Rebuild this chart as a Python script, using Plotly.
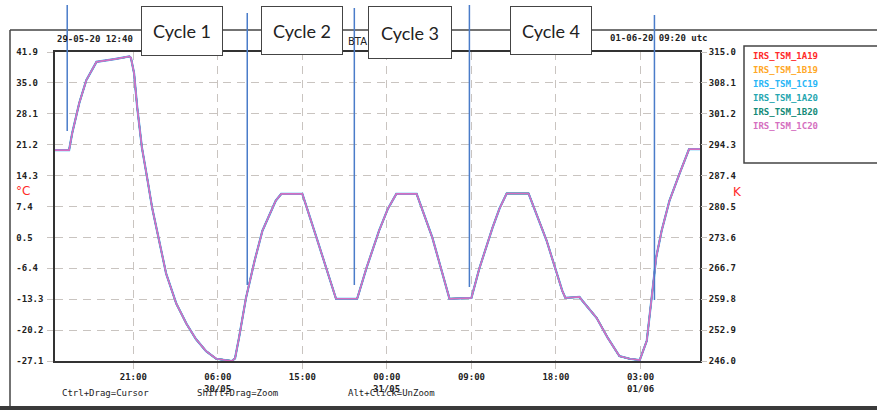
import plotly.graph_objects as go

# ---------------- data ----------------
series_names = ["IRS_TSM_1A19", "IRS_TSM_1B19", "IRS_TSM_1C19",
                "IRS_TSM_1A20", "IRS_TSM_1B20", "IRS_TSM_1C20"]
series_colors = ["#ff2a2a", "#ffa726", "#29b6f6", "#26a6b0", "#138a78", "#d56fc0"]

times = [
    "2020-05-29 12:40", "2020-05-29 14:10", "2020-05-29 14:30", "2020-05-29 15:15",
    "2020-05-29 16:00", "2020-05-29 17:05", "2020-05-29 19:00", "2020-05-29 20:35",
    "2020-05-29 20:45", "2020-05-29 21:05", "2020-05-29 21:25", "2020-05-29 21:55",
    "2020-05-29 22:30", "2020-05-29 23:00", "2020-05-29 23:45", "2020-05-30 00:30",
    "2020-05-30 01:35", "2020-05-30 02:40", "2020-05-30 03:40", "2020-05-30 04:45",
    "2020-05-30 05:50", "2020-05-30 07:30", "2020-05-30 07:50", "2020-05-30 08:15",
    "2020-05-30 09:00", "2020-05-30 09:55", "2020-05-30 10:45", "2020-05-30 11:40",
    "2020-05-30 12:10", "2020-05-30 12:45", "2020-05-30 15:00", "2020-05-30 16:30",
    "2020-05-30 18:35", "2020-05-30 20:50", "2020-05-30 21:50", "2020-05-30 23:10",
    "2020-05-31 00:05", "2020-05-31 01:00", "2020-05-31 03:10", "2020-05-31 04:50",
    "2020-05-31 06:40", "2020-05-31 09:00", "2020-05-31 09:50", "2020-05-31 11:15",
    "2020-05-31 12:00", "2020-05-31 12:45", "2020-05-31 15:05", "2020-05-31 17:00",
    "2020-05-31 18:40", "2020-05-31 19:00", "2020-05-31 20:30", "2020-05-31 20:50",
    "2020-05-31 22:20", "2020-05-31 23:30", "2020-06-01 00:45", "2020-06-01 01:50",
    "2020-06-01 02:55", "2020-06-01 03:40", "2020-06-01 04:40", "2020-06-01 05:15",
    "2020-06-01 06:05", "2020-06-01 07:10", "2020-06-01 07:40", "2020-06-01 08:10",
    "2020-06-01 09:20",
]
temp_c = [
    20.0, 20.0, 23.8, 30.5,
    35.6, 39.7, 40.3, 40.9,
    40.6, 37.2, 29.6, 20.6,
    13.5, 7.2, -0.2, -7.6,
    -14.3, -18.8, -22.2, -24.9,
    -26.6, -27.1, -26.5, -22.0,
    -13.0, -4.7, 2.0, 6.5,
    8.7, 10.2, 10.2, 0.5,
    -13.2, -13.2, -6.3, 2.0,
    6.8, 10.2, 10.2, 0.5,
    -13.2, -13.0, -6.5, 2.7,
    7.0, 10.3, 10.3, -0.2,
    -11.4, -13.0, -12.8, -13.7,
    -17.5, -21.9, -26.0, -26.6,
    -26.9, -22.6, -4.0, 2.0,
    8.7, 14.8, 17.7, 20.2,
    20.2,
]

x_range = ["2020-05-29 12:40", "2020-06-01 09:20"]
x_tick_vals = ["2020-05-29 21:00", "2020-05-30 06:00", "2020-05-30 15:00",
               "2020-05-31 00:00", "2020-05-31 09:00", "2020-05-31 18:00",
               "2020-06-01 03:00"]
x_tick_text = ["21:00", "06:00", "15:00", "00:00", "09:00", "18:00", "03:00"]
date_label_at = ["2020-05-30 06:00", "2020-05-31 00:00", "2020-06-01 03:00"]
date_labels = ["30/05", "31/05", "01/06"]

c_ticks = [41.9, 35.0, 28.1, 21.2, 14.3, 7.4, 0.5, -6.4, -13.3, -20.2, -27.1]
k_ticks = [315.0, 308.1, 301.2, 294.3, 287.4, 280.5, 273.6, 266.7, 259.8, 252.9, 246.0]

cycle_labels = ["Cycle 1", "Cycle 2", "Cycle 3", "Cycle 4"]
marker_times = ["2020-05-29 13:58", "2020-05-30 09:08", "2020-05-30 20:32",
                "2020-05-31 08:47", "2020-06-01 04:29"]

# ---------------- geometry helpers (pixels -> paper) ----------------
W, H = 877, 410
L, R, T, B = 55, 700, 52, 361


def px(xp):
    return (xp - L) / (R - L)


def py(yp):
    return (B - yp) / (B - T)


MONO = "DejaVu Sans Mono"

fig = go.Figure()
# drawing order: hidden-under series first, light blue just under the pink one
draw_order = [0, 1, 3, 4, 2, 5]
widths = {0: 1.4, 1: 1.4, 3: 1.4, 4: 1.4, 2: 2.2, 5: 1.7}
for i in draw_order:
    fig.add_trace(go.Scatter(x=times, y=temp_c, mode="lines", name=series_names[i],
                             line=dict(color=series_colors[i], width=widths[i]),
                             showlegend=False))

# invisible trace to activate the Kelvin axis
fig.add_trace(go.Scatter(x=[x_range[0], x_range[0]], y=[k_ticks[-1], k_ticks[0]],
                         mode="lines", line=dict(width=0), yaxis="y2",
                         showlegend=False, hoverinfo="skip"))

grid_col = "#c9c4c0"
tick_font = dict(family=MONO, size=9, color="#222222", weight="bold")

fig.update_layout(
    width=W, height=H,
    margin=dict(l=L, r=W - R, t=T, b=H - B),
    paper_bgcolor="white", plot_bgcolor="white",
    xaxis=dict(type="date", range=x_range, tickvals=x_tick_vals, ticktext=x_tick_text,
               showgrid=True, gridcolor=grid_col, griddash="8px,6px", gridwidth=1,
               ticks="outside", ticklen=6, tickcolor=grid_col,
               showline=True, linecolor="#333333", linewidth=1.5, mirror=True,
               tickfont=tick_font, zeroline=False),
    yaxis=dict(range=[c_ticks[-1], c_ticks[0]], tickvals=c_ticks,
               ticktext=[f"{v:.1f}".ljust(5, "\u00a0") for v in c_ticks],
               showgrid=True, gridcolor=grid_col, griddash="8px,6px", gridwidth=1,
               ticks="outside", ticklen=6, tickcolor=grid_col,
               showline=True, linecolor="#333333", linewidth=1.5, mirror=True,
               tickfont=tick_font, zeroline=False, ticklabelstandoff=2),
    yaxis2=dict(range=[k_ticks[-1], k_ticks[0]], tickvals=k_ticks,
                ticktext=[f"{v:.1f}" for v in k_ticks],
                overlaying="y", side="right", showgrid=False, zeroline=False,
                ticks="outside", ticklen=6, tickcolor=grid_col,
                tickfont=tick_font),
)

shapes = []
frame_col = "#444444"
# outer window frame
shapes.append(dict(type="line", xref="paper", yref="paper", x0=px(10), x1=px(880),
                   y0=py(30), y1=py(30), line=dict(color=frame_col, width=1.5)))
shapes.append(dict(type="line", xref="paper", yref="paper", x0=px(10), x1=px(10),
                   y0=py(30), y1=py(407), line=dict(color=frame_col, width=1.5)))
shapes.append(dict(type="rect", xref="paper", yref="paper", x0=px(0), x1=px(880),
                   y0=py(406), y1=py(411), line=dict(width=0), fillcolor="#3a3a3a"))
# legend box
shapes.append(dict(type="rect", xref="paper", yref="paper", x0=px(744), x1=px(885),
                   y0=py(163), y1=py(46), line=dict(color=frame_col, width=1.5),
                   fillcolor="white"))
# blue marker lines
marker_spans = [(5, 131), (13, 285), (8, 285), (5, 287), (15, 300)]
for t, (ytop, ybot) in zip(marker_times, marker_spans):
    shapes.append(dict(type="line", xref="x", yref="paper", x0=t, x1=t,
                       y0=py(ytop), y1=py(ybot), line=dict(color="#4a7cc9", width=1.5)))
fig.update_layout(shapes=shapes)

ann = []
small = dict(family=MONO, size=9, color="#222222", weight="bold")
ann.append(dict(text="29-05-20 12:40", xref="paper", yref="paper", x=px(55), y=py(39),
                xanchor="left", yanchor="middle", showarrow=False, font=small))
ann.append(dict(text="01-06-20 09:20 utc", xref="paper", yref="paper", x=px(608), y=py(38),
                xanchor="left", yanchor="middle", showarrow=False, font=small))
ann.append(dict(text="BTA", xref="paper", yref="paper", x=px(346), y=py(42),
                xanchor="left", yanchor="middle", showarrow=False,
                font=dict(family="DejaVu Sans", size=10, color="#222222")))
ann.append(dict(text="°C", xref="paper", yref="paper", x=px(14), y=py(191),
                xanchor="left", yanchor="middle", showarrow=False,
                font=dict(family="DejaVu Sans", size=12, color="#ff2a2a")))
ann.append(dict(text="K", xref="paper", yref="paper", x=px(731), y=py(192),
                xanchor="left", yanchor="middle", showarrow=False,
                font=dict(family="DejaVu Sans", size=12, color="#ff2a2a")))
for t, lab in zip(date_label_at, date_labels):
    ann.append(dict(text=lab, xref="x", yref="paper", x=t, y=py(389),
                    xanchor="center", yanchor="middle", showarrow=False, font=small))
for txt, xp in [("Ctrl+Drag=Cursor", 60), ("Shift+Drag=Zoom", 195), ("Alt+Click=UnZoom", 346)]:
    ann.append(dict(text=txt, xref="paper", yref="paper", x=px(xp), y=py(393),
                    xanchor="left", yanchor="middle", showarrow=False,
                    font=dict(family=MONO, size=9, color="#222222")))
for i, (name, col) in enumerate(zip(series_names, series_colors)):
    ann.append(dict(text=name, xref="paper", yref="paper", x=px(751), y=py(56 + 14 * i),
                    xanchor="left", yanchor="middle", showarrow=False,
                    font=dict(family=MONO, size=9, color=col, weight="bold")))
# cycle boxes
boxes = [(141, 223, 6, 56), (261, 343, 6, 55), (368, 452, 6, 59), (510, 592, 6, 55)]
for lab, (x0, x1, y0, y1) in zip(cycle_labels, boxes):
    ann.append(dict(text=lab, xref="paper", yref="paper", x=px((x0 + x1) / 2),
                    y=py((y0 + y1) / 2), xanchor="center", yanchor="middle",
                    showarrow=False, width=x1 - x0 - 2, height=y1 - y0 - 2,
                    bgcolor="white", bordercolor="#444444", borderwidth=1, borderpad=0,
                    font=dict(family="Lato", size=18, color="#222222")))
fig.update_layout(annotations=ann)

fig.write_html("out.html", config={"displayModeBar": False},
               post_script="document.body.style.margin='0px';")
